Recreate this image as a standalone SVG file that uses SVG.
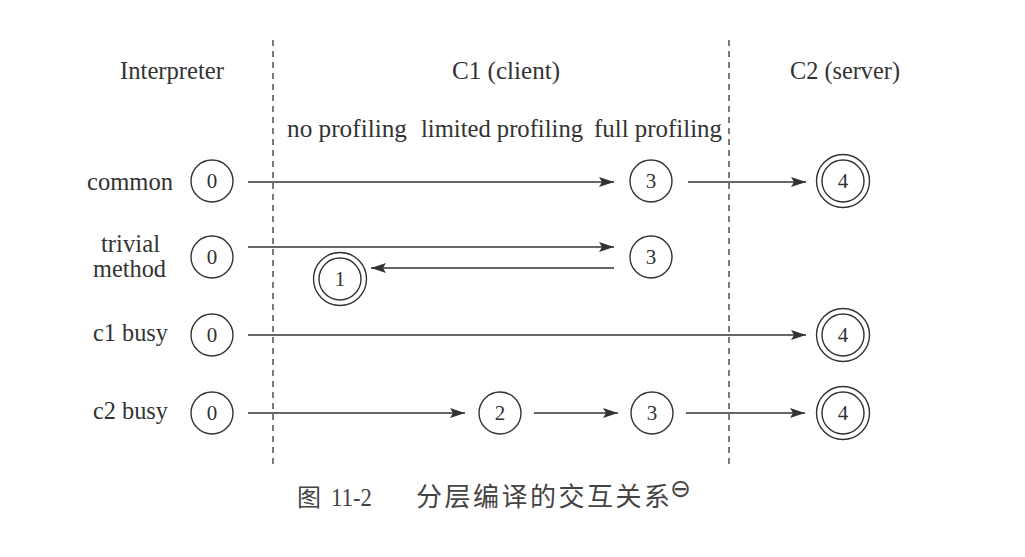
<svg xmlns="http://www.w3.org/2000/svg" width="1025" height="557" viewBox="0 0 1025 557">
<style>
.t{font-family:"Liberation Serif","Times New Roman",serif;font-size:24.5px;fill:#333}
.n{font-family:"Liberation Serif","Times New Roman",serif;font-size:21px;fill:#333;text-anchor:middle}
.c{fill:#fff;stroke:#333;stroke-width:1.4}
.e{stroke:#333;stroke-width:1.3;fill:none;marker-end:url(#ah)}
.d{stroke:#444;stroke-width:1.4;stroke-dasharray:6 5;fill:none}
.cap{font-family:"Liberation Serif","Noto Sans CJK SC",serif;font-size:26px;fill:#444}
</style>
<defs>
<marker id="ah" markerUnits="userSpaceOnUse" markerWidth="17" markerHeight="12" refX="15" refY="5" orient="auto">
<path d="M0,0 L15,5 L0,10 L3,5 z" fill="#333"/>
</marker>
</defs>
<rect width="1025" height="557" fill="#fff"/>
<g id="dividers">
<line class="d" x1="273" y1="40" x2="273" y2="464"/>
<line class="d" x1="729" y1="40" x2="729" y2="464"/>
</g>
<g id="headers">
<text class="t" x="120" y="79" textLength="104" lengthAdjust="spacingAndGlyphs">Interpreter</text>
<text class="t" x="452" y="79" textLength="108" lengthAdjust="spacingAndGlyphs">C1 (client)</text>
<text class="t" x="790" y="79" textLength="110" lengthAdjust="spacingAndGlyphs">C2 (server)</text>
<text class="t" x="287" y="137" textLength="120" lengthAdjust="spacingAndGlyphs">no profiling</text>
<text class="t" x="421" y="137" textLength="162" lengthAdjust="spacingAndGlyphs">limited profiling</text>
<text class="t" x="594" y="137" textLength="128" lengthAdjust="spacingAndGlyphs">full profiling</text>
</g>
<g id="row-labels">
<text class="t" x="87" y="190" textLength="86" lengthAdjust="spacingAndGlyphs">common</text>
<text class="t" x="101" y="252" textLength="59" lengthAdjust="spacingAndGlyphs">trivial</text>
<text class="t" x="93" y="277" textLength="73" lengthAdjust="spacingAndGlyphs">method</text>
<text class="t" x="93" y="341" textLength="75" lengthAdjust="spacingAndGlyphs">c1 busy</text>
<text class="t" x="93" y="419" textLength="75" lengthAdjust="spacingAndGlyphs">c2 busy</text>
</g>
<g id="connectors">
<line class="e" x1="248" y1="182" x2="614" y2="182"/>
<line class="e" x1="688" y1="182" x2="806" y2="182"/>
<line class="e" x1="248" y1="247" x2="614" y2="247"/>
<line class="e" x1="614" y1="268" x2="371" y2="268"/>
<line class="e" x1="248" y1="335" x2="806" y2="335"/>
<line class="e" x1="248" y1="413" x2="465" y2="413"/>
<line class="e" x1="534" y1="413" x2="618" y2="413"/>
<line class="e" x1="686" y1="413" x2="805" y2="413"/>
</g>
<g id="common-0"><circle class="c" cx="212" cy="181" r="21"/><text class="n" x="212" y="188">0</text></g>
<g id="common-3"><circle class="c" cx="651" cy="181" r="21"/><text class="n" x="651" y="188">3</text></g>
<g id="common-4"><circle class="c" cx="843" cy="181" r="26.5"/><circle class="c" cx="843" cy="181" r="21"/><text class="n" x="843" y="188">4</text></g>
<g id="trivial-0"><circle class="c" cx="212" cy="257" r="21"/><text class="n" x="212" y="264">0</text></g>
<g id="trivial-3"><circle class="c" cx="651" cy="257" r="21"/><text class="n" x="651" y="264">3</text></g>
<g id="trivial-1"><circle class="c" cx="340" cy="279" r="26.5"/><circle class="c" cx="340" cy="279" r="21"/><text class="n" x="340" y="286">1</text></g>
<g id="c1busy-0"><circle class="c" cx="212" cy="335" r="21"/><text class="n" x="212" y="342">0</text></g>
<g id="c1busy-4"><circle class="c" cx="843" cy="335" r="26.5"/><circle class="c" cx="843" cy="335" r="21"/><text class="n" x="843" y="342">4</text></g>
<g id="c2busy-0"><circle class="c" cx="212" cy="413" r="21"/><text class="n" x="212" y="420">0</text></g>
<g id="c2busy-2"><circle class="c" cx="500" cy="413" r="21"/><text class="n" x="500" y="420">2</text></g>
<g id="c2busy-3"><circle class="c" cx="652" cy="413" r="21"/><text class="n" x="652" y="420">3</text></g>
<g id="c2busy-4"><circle class="c" cx="843" cy="413" r="26.5"/><circle class="c" cx="843" cy="413" r="21"/><text class="n" x="843" y="420">4</text></g>
<g id="caption">
<text class="cap" x="297" y="506" style="font-size:24px">图</text>
<text class="cap" x="331" y="506" textLength="41" lengthAdjust="spacingAndGlyphs" style="font-size:26px">11-2</text>
<text class="cap" x="416" y="506" textLength="254">分层编译的交互关系</text>
<text x="670" y="497" style="font-family:'DejaVu Sans',sans-serif;font-size:25px;fill:#444">⊖</text>
</g>
</svg>
